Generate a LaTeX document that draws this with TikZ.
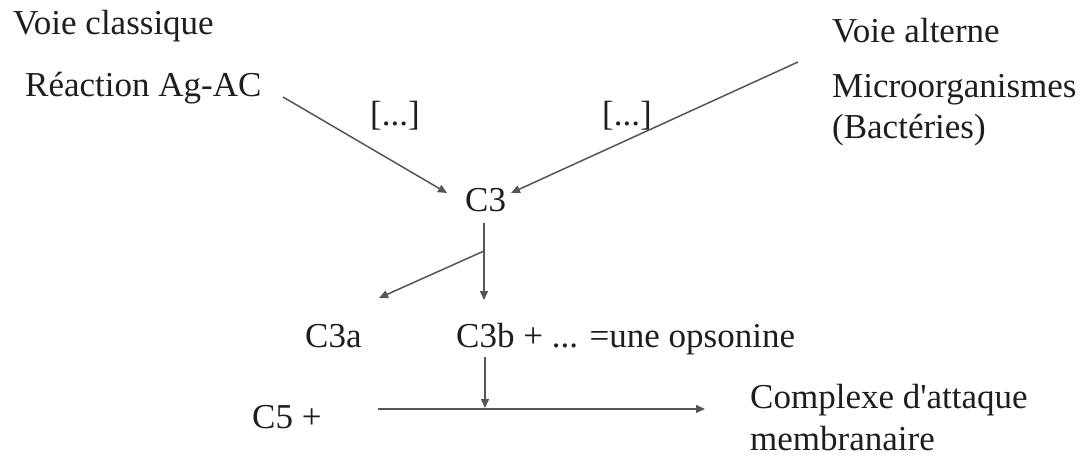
\documentclass[tikz,border=0pt]{standalone}
\usepackage{fontspec}
\setmainfont{Liberation Serif}
\usetikzlibrary{arrows.meta}
\definecolor{txt}{HTML}{1E1E1E}
\definecolor{ln}{HTML}{555555}
\tikzset{
  lbl/.style={anchor=base west, inner sep=0pt, text=txt, font=\fontsize{35}{40}\selectfont},
  conn/.style={draw=ln, line width=1.5pt, -{Triangle[length=9pt,width=8pt]}}
}
\begin{document}
\begin{tikzpicture}[x=1pt,y=-1pt]
\useasboundingbox (0,0) rectangle (1082,457);
\node[lbl] (vc) at (13,35) {Voie classique};
\node[lbl] (rag) at (25,97) {Réaction Ag-AC};
\node[lbl] (va) at (832,43) {Voie alterne};
\node[lbl] (mo) at (832,98) {Microorganismes};
\node[lbl] (bac) at (832,139) {(Bactéries)};
\node[lbl] (br1) at (370,126) {[...]};
\node[lbl] (br2) at (602,126) {[...]};
\node[lbl] (c3) at (465,212) {C3};
\node[lbl] (c3a) at (305,347) {C3a};
\node[lbl] (c3b) at (456,347) {C3b + ... =une opsonine};
\node[lbl] (c5) at (252,428) {C5 +};
\node[lbl] (cx1) at (750,408) {Complexe d\textquotesingle attaque};
\node[lbl] (cx2) at (750,450) {membranaire};
% connector end points
\coordinate (s1) at (283,97);
\coordinate (t1) at (447,193);
\coordinate (s2) at (798,62);
\coordinate (t2) at (511,193);
\coordinate (s3) at (484,223);
\coordinate (t3) at (484,300);
\coordinate (b4) at (484,251);
\coordinate (t4) at (379,298);
\coordinate (s5) at (485,357);
\coordinate (t5) at (485,408);
\coordinate (s6) at (378,409);
\coordinate (t6) at (705,409);
\draw[conn] (s1) -- (t1);
\draw[conn] (s2) -- (t2);
\draw[conn] (s3) -- (t3);
\draw[conn] (b4) -- (t4);
\draw[conn] (s5) -- (t5);
\draw[conn] (s6) -- (t6);
\end{tikzpicture}
\end{document}
